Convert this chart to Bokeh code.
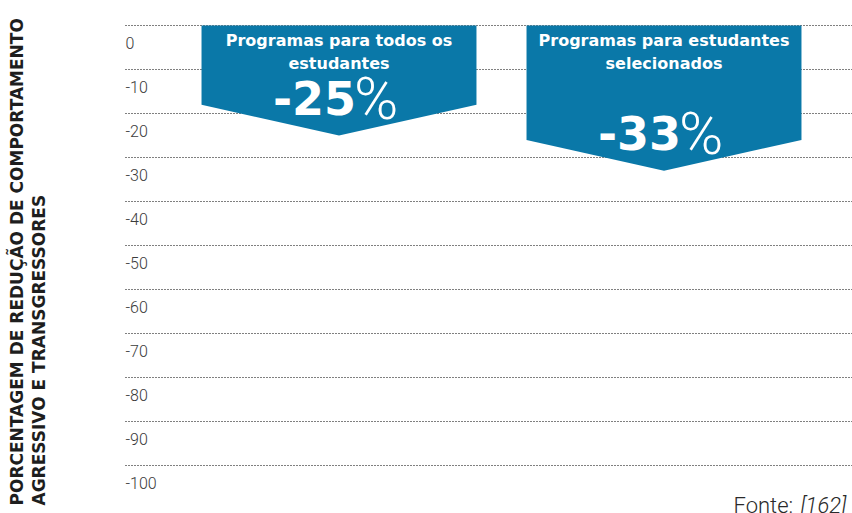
from bokeh.plotting import figure
from bokeh.models import Range1d, Label
from bokeh.core.properties import value
from bokeh.embed import file_html
from bokeh.resources import INLINE

# ---- data ----
categories = ["Programas para todos os\nestudantes", "Programas para estudantes\nselecionados"]
values = [-25, -33]
value_labels = ["-25", "-33"]
tick_values = [0, -10, -20, -30, -40, -50, -60, -70, -80, -90, -100]
tick_labels = ["0", "-10", "-20", "-30", "-40", "-50", "-60", "-70", "-80", "-90", "-100"]
y_title_1 = "PORCENTAGEM DE REDUÇÃO DE COMPORTAMENTO"
y_title_2 = "AGRESSIVO E TRANSGRESSORES"
source_text = "Fonte: "
source_ref = "[162]"

BLUE = "#0a78a8"
W, H = 852, 513
PX_PER_UNIT_Y = 4.4
Y0_PX = 25
PX_PER_UNIT_X = 325
X0_PX = 338.5

p = figure(width=W, height=H, output_backend="svg", toolbar_location=None,
           min_border=0, min_border_left=0, min_border_right=0,
           min_border_top=0, min_border_bottom=0,
           x_range=Range1d(-X0_PX / PX_PER_UNIT_X, (W - X0_PX) / PX_PER_UNIT_X),
           y_range=Range1d(-(H - Y0_PX) / PX_PER_UNIT_Y, Y0_PX / PX_PER_UNIT_Y))
p.axis.visible = False
p.grid.visible = False
p.outline_line_color = None
p.background_fill_color = "white"
p.border_fill_color = "white"

x_grid_start = (125 - X0_PX) / PX_PER_UNIT_X
x_end = p.x_range.end

# grid lines
p.segment(x0=[x_grid_start] * len(tick_values), x1=[x_end] * len(tick_values),
          y0=tick_values, y1=tick_values, line_color="#000000", line_width=1,
          line_dash="1 2")

# tick labels
p.text(x=[x_grid_start] * len(tick_values), y=tick_values, text=tick_labels,
       text_font=value("Roboto Light"), text_font_size="16px", text_color="#3c3c3c",
       text_align="left", text_baseline="alphabetic", y_offset=17)

# arrows
xs = list(range(len(values)))
half_w = 0.423
head = 7
arrow_x = []
arrow_y = []
for xi, v in zip(xs, values):
    arrow_x.append([xi - half_w, xi + half_w, xi + half_w, xi, xi - half_w])
    arrow_y.append([0, 0, v + head, v, v + head])
p.patches(xs=arrow_x, ys=arrow_y, fill_color=BLUE, line_color=None)

# header texts
p.text(x=xs, y=[-6.0] * len(xs), text=categories, text_font=value("DejaVu Sans"),
       text_font_style="bold", text_font_size="16px", text_color="white",
       text_align="center", text_baseline="middle", text_line_height=1.25)

# value texts
p.text(x=xs, y=[v + 5.0 for v in values], text=value_labels, text_font=value("DejaVu Sans"),
       text_font_style="bold", text_font_size="46px", text_color="white",
       text_align="right", text_baseline="alphabetic", x_offset=17, y_offset=-16)
p.text(x=xs, y=[v + 5.0 for v in values], text=["%"] * len(xs), text_font=value("Roboto Light"),
       text_font_size="60px", text_color="white",
       text_align="left", text_baseline="alphabetic", x_offset=15, y_offset=-15)

# y title
for txt, sx in [(y_title_1, 16), (y_title_2, 38)]:
    p.add_layout(Label(x=sx, y=8, x_units="screen", y_units="screen", text=txt,
                       angle=90, angle_units="deg", text_font="DejaVu Sans",
                       text_font_style="bold", text_font_size="17px",
                       text_color="#1e1e1e", text_align="left",
                       text_baseline="alphabetic"))

# source
p.add_layout(Label(x=733, y=8, x_units="screen", y_units="screen", text=source_text,
                   text_font="Roboto Light", text_font_size="22px", text_color="#2a2a2a",
                   text_align="left", text_baseline="alphabetic"))
p.add_layout(Label(x=800, y=8, x_units="screen", y_units="screen", text=source_ref,
                   text_font="Roboto Light", text_font_style="italic", text_font_size="22px",
                   text_color="#2a2a2a", text_align="left", text_baseline="alphabetic"))

open("out.html", "w").write(file_html(p, INLINE))
